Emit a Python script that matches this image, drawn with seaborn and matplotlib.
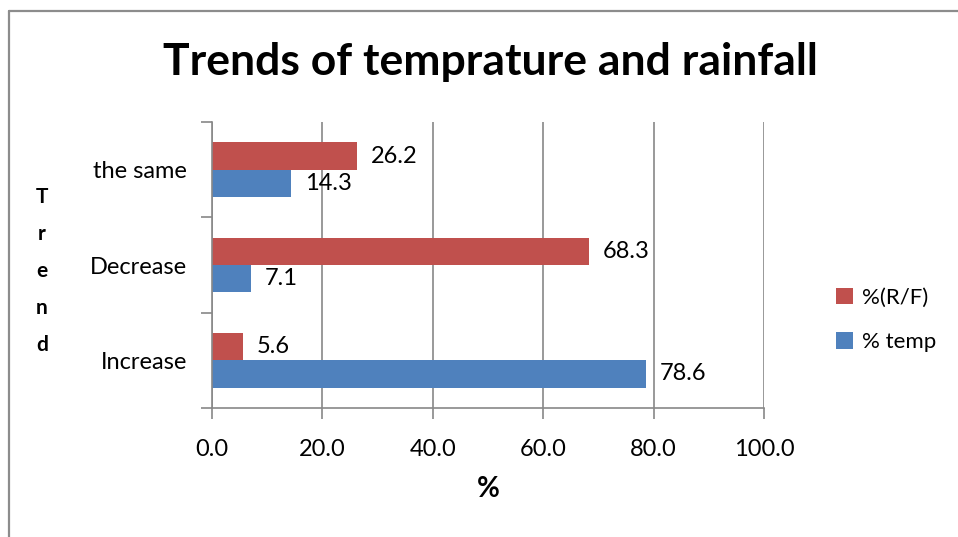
import matplotlib
matplotlib.use("Agg")
import matplotlib.pyplot as plt
from matplotlib.lines import Line2D
from matplotlib.patches import Patch
import seaborn as sns
import pandas as pd

categories = ["the same", "Decrease", "Increase"]
rainfall_pct = [26.2, 68.3, 5.6]
temp_pct = [14.3, 7.1, 78.6]
series_names = ["%(R/F)", "% temp"]
x_ticks = [0, 20, 40, 60, 80, 100]
colors = {"%(R/F)": "#C0504D", "% temp": "#4F81BD"}

df = pd.DataFrame({
    "Trend": categories * 2,
    "value": rainfall_pct + temp_pct,
    "series": [series_names[0]] * len(categories) + [series_names[1]] * len(categories),
})

sns.set_theme(style="white")
plt.rcParams["font.family"] = ["Lato", "DejaVu Sans"]
plt.rcParams["text.color"] = "black"
plt.rcParams["xtick.color"] = "black"
plt.rcParams["ytick.color"] = "black"
plt.rcParams["axes.labelcolor"] = "black"

fig = plt.figure(figsize=(9.58, 5.37), dpi=100)
ax = fig.add_axes([212 / 958, 1 - 408 / 537, 552 / 958, 286 / 537])

sns.barplot(data=df, x="value", y="Trend", hue="series", order=categories,
            hue_order=series_names, palette=colors, orient="h", width=0.57,
            saturation=1, ax=ax, legend=False, linewidth=0)

for cont in ax.containers:
    ax.bar_label(cont, fmt="%.1f", padding=10, fontsize=17, color="black")

grid_col = "#888888"
ax.set_xlim(0, 100)
ax.set_ylim(2.5, -0.5)
ax.set_xticks(x_ticks)
ax.set_xticklabels([f"{v:.1f}" for v in x_ticks], fontsize=17)
ax.tick_params(axis="x", length=8, width=1.2, color=grid_col, labelcolor="black",
               pad=14, bottom=True)
ax.tick_params(axis="y", which="major", length=0, pad=18, labelsize=17,
               labelcolor="black")
ax.set_yticks([-0.5, 0.5, 1.5, 2.5], minor=True)
ax.tick_params(axis="y", which="minor", length=8, width=1.2, color=grid_col, left=True)
ax.xaxis.grid(True, color=grid_col, linewidth=1.2)
ax.yaxis.grid(False)
ax.set_axisbelow(True)
for s in ["top", "right"]:
    ax.spines[s].set_visible(False)
for s in ["left", "bottom"]:
    ax.spines[s].set_color(grid_col)
    ax.spines[s].set_linewidth(1.2)

ax.set_xlabel("%", fontsize=20, fontweight="bold", labelpad=12, color="black")
ax.set_ylabel("")
fig.text(42 / 958, 1 - 271 / 537, "T\nr\ne\nn\nd", ha="center", va="center",
         fontsize=15, fontweight="bold", linespacing=2.07, color="black")

fig.text(490 / 958, 1 - 62 / 537, "Trends of temprature and rainfall",
         ha="center", va="center", fontsize=32, fontweight="bold", color="black")

handles = [Patch(facecolor=colors[n], edgecolor="none") for n in series_names]
fig.legend(handles, series_names, loc="center left",
           bbox_to_anchor=(816 / 958, 1 - 320 / 537), frameon=False,
           fontsize=16, handlelength=0.75, handleheight=0.75, handletextpad=0.4,
           labelspacing=1.1, labelcolor="black")

fig.add_artist(Line2D([8.5 / 958, 8.5 / 958], [0, 1 - 10.5 / 537],
                      transform=fig.transFigure, color="#8c8c8c", linewidth=1.6))
fig.add_artist(Line2D([8.5 / 958, 1], [1 - 10.5 / 537, 1 - 10.5 / 537],
                      transform=fig.transFigure, color="#8c8c8c", linewidth=1.6))

fig.savefig("out.png", dpi=100)
